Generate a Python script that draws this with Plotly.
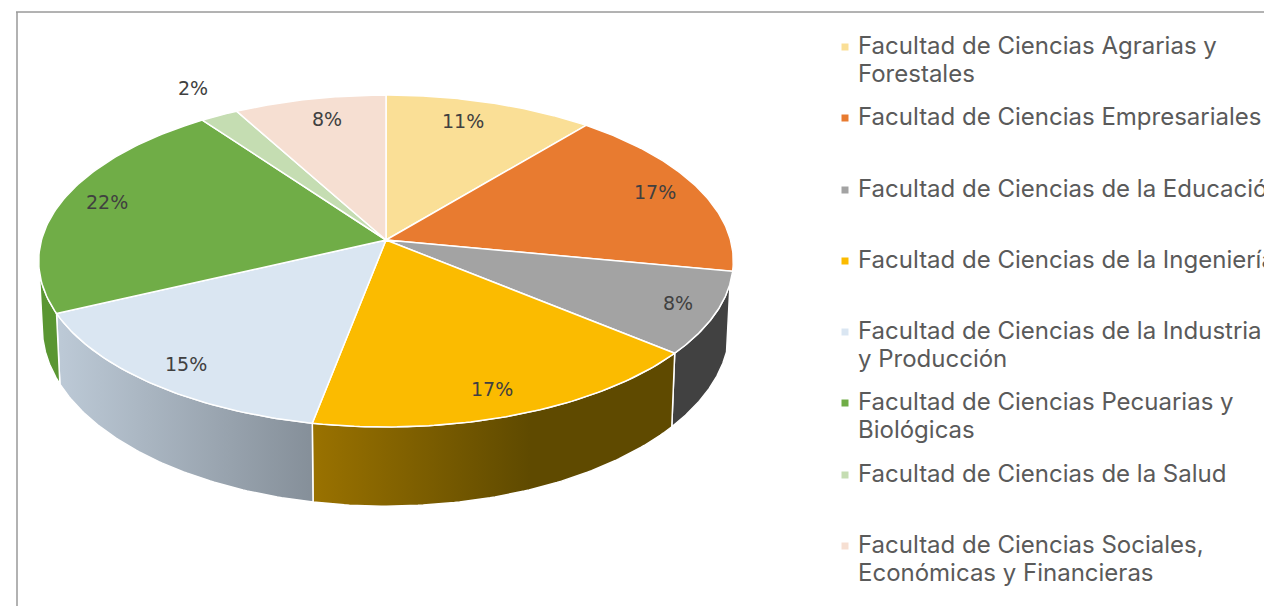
#!/usr/bin/env python3
# -*- coding: utf-8 -*-
import numpy as np
import plotly.graph_objects as go

facultades = [
    "Facultad de Ciencias Agrarias y<br>Forestales",
    "Facultad de Ciencias Empresariales",
    "Facultad de Ciencias de la Educación",
    "Facultad de Ciencias de la Ingeniería",
    "Facultad de Ciencias de la Industria<br>y Producción",
    "Facultad de Ciencias Pecuarias y<br>Biológicas",
    "Facultad de Ciencias de la Salud",
    "Facultad de Ciencias Sociales,<br>Económicas y Financieras",
]
porcentajes = [11, 17, 8, 17, 15, 22, 2, 8]
colores = ["#FADF96", "#E87B30", "#A3A3A3", "#FBBB00", "#DAE6F2", "#70AD47", "#C5DDB2", "#F6DFD2"]

# side wall gradients, left to right (None = that slice has no visible wall)
pared = [
    None,
    None,
    ("#414141", "#414141"),
    ("#9A7200", "#5F4A00"),
    ("#BDCAD7", "#858F99"),
    ("#5A9632", "#5A9632"),
    None,
    None,
]

# page positions of the percent labels and of the legend rows
label_xy = [(463, 121), (655, 192), (678, 303), (492, 389), (186, 364), (107, 202), (193, 88), (327, 119)]
legend_text_y = [45, 116, 188, 259, 330, 401, 473, 544]
legend_mark_y = [47, 118, 190, 261, 332, 403, 475, 546]
LINE_STEP = 28

# perspective of the disc, page pixels
CX = 386
TOP_Y, TOP_A, TOP_B = 240, 163.3, 344.5
BOT_Y, BOT_A, BOT_B = 305, 175.7, 341.0
K = 0.1265
WALL_FROM, WALL_TO = 105, 263


def rim(theta, cy, a, b):
    t = np.radians(theta)
    w = 1 + K * np.cos(t)
    return CX + b * np.sin(t) / w, cy - a * np.cos(t) / w


fig = go.Figure()
edges = np.concatenate([[0], np.cumsum(porcentajes)]) * 3.6

for i, grad in enumerate(pared):
    if grad is None:
        continue
    th = np.linspace(max(edges[i], WALL_FROM), min(edges[i + 1], WALL_TO), 80)
    x0, y0 = rim(th, TOP_Y, TOP_A, TOP_B)
    x1, y1 = rim(th, BOT_Y, BOT_A, BOT_B)
    xs = np.concatenate([x0, x1[::-1], x0[:1]])
    ys = np.concatenate([y0, y1[::-1], y0[:1]])
    fig.add_trace(
        go.Scatter(
            x=xs,
            y=ys,
            mode="lines",
            fill="toself",
            fillgradient=dict(
                type="horizontal",
                colorscale=[[0, grad[0]], [1, grad[1]]],
                start=xs.min(),
                stop=xs.max() if grad[0] != "#9A7200" else 530,
            ),
            line=dict(color="#FFFFFF", width=1.5),
            hoverinfo="skip",
        )
    )

for i, col in enumerate(colores):
    th = np.linspace(edges[i], edges[i + 1], 80)
    x0, y0 = rim(th, TOP_Y, TOP_A, TOP_B)
    fig.add_trace(
        go.Scatter(
            x=np.concatenate([[CX], x0, [CX]]),
            y=np.concatenate([[TOP_Y], y0, [TOP_Y]]),
            mode="lines",
            fill="toself",
            fillcolor=col,
            line=dict(color="#FFFFFF", width=1.5),
            hoverinfo="skip",
        )
    )

# legend swatches
fig.add_trace(
    go.Scatter(
        x=[845] * len(colores),
        y=legend_mark_y,
        mode="markers",
        marker=dict(symbol="square", size=7, color=colores),
        hoverinfo="skip",
    )
)

for pct, (lx, ly) in zip(porcentajes, label_xy):
    fig.add_annotation(x=lx, y=ly, text=f"{pct}%", showarrow=False, font=dict(family="DejaVu Sans", size=19, color="#404040"))

# one annotation per line: the original leading is tighter than plotly's
for name, ly in zip(facultades, legend_text_y):
    for n, part in enumerate(name.split("<br>")):
        fig.add_annotation(
            x=856,
            y=ly + n * LINE_STEP,
            text=part,
            showarrow=False,
            xanchor="left",
            align="left",
            font=dict(family="Inter", size=24, color="#5A5A5A"),
        )

# frame of the original figure: top and left only
fig.add_shape(type="line", x0=16, x1=1264, y0=12, y1=12, line=dict(color="#666666", width=1))
fig.add_shape(type="line", x0=17, x1=17, y0=12, y1=606, line=dict(color="#999999", width=1.5))

fig.update_layout(
    width=1264,
    height=606,
    margin=dict(l=0, r=0, t=0, b=0),
    paper_bgcolor="white",
    plot_bgcolor="white",
    showlegend=False,
    xaxis=dict(range=[0, 1264], visible=False),
    yaxis=dict(range=[606, 0], visible=False),
)

fig.write_html("out.html", config=dict(displayModeBar=False), post_script="document.body.style.margin='0';")
